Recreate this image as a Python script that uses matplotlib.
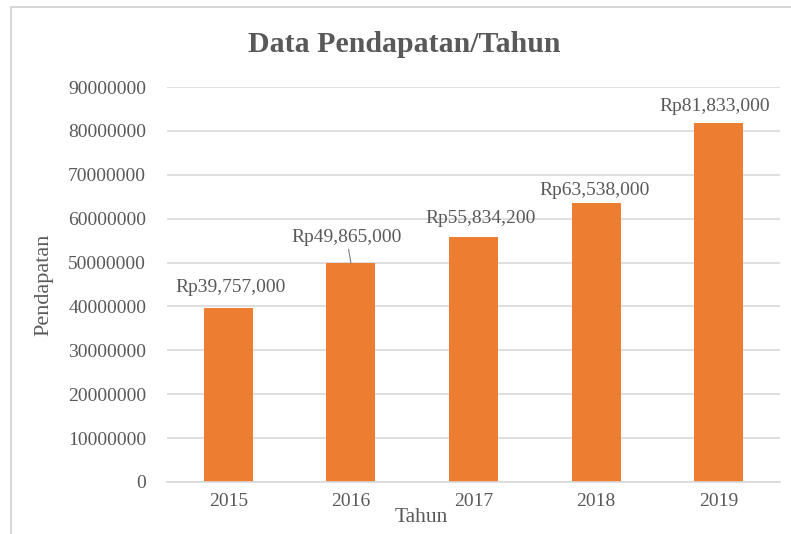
"""Bar chart of yearly revenue (Data Pendapatan/Tahun)."""

import matplotlib

matplotlib.use("Agg")
import matplotlib.pyplot as plt
from matplotlib.patches import Rectangle
from matplotlib.ticker import MultipleLocator

years = ["2015", "2016", "2017", "2018", "2019"]
pendapatan = [39757000, 49865000, 55834200, 63538000, 81833000]
value_labels = ["Rp39,757,000", "Rp49,865,000", "Rp55,834,200", "Rp63,538,000", "Rp81,833,000"]

BAR = "#ED7D31"
TEXT = "#595959"
GRID = "#D9D9D9"

W, H = 791, 534
plt.rcParams["font.family"] = ["Liberation Serif", "DejaVu Serif"]

fig = plt.figure(figsize=(W / 100, H / 100), dpi=100)
# chart frame: only its top and left edges fall inside the picture
fig.patches.append(Rectangle((11 / W, -0.05), 1.1, 1.05 - 7 / H, transform=fig.transFigure,
                             fill=False, edgecolor="#D0D0D0", linewidth=1.2))

left, right, top, bottom = 167, 780, 87, 482
ax = fig.add_axes([left / W, 1 - bottom / H, (right - left) / W, (bottom - top) / H])

x = list(range(len(years)))
ax.bar(x, pendapatan, width=0.4, color=BAR, zorder=2)
ax.set_xlim(-0.5, len(years) - 0.5)
ax.set_ylim(0, 90000000)
ax.yaxis.set_major_locator(MultipleLocator(10000000))
ax.yaxis.set_major_formatter(lambda v, _: f"{int(v)}")
ax.grid(axis="y", color=GRID, linewidth=1.2, zorder=0)
ax.set_axisbelow(True)
for side in ("top", "right", "left"):
    ax.spines[side].set_visible(False)
ax.spines["bottom"].set_color(GRID)
ax.spines["bottom"].set_linewidth(1.2)
ax.tick_params(length=0, colors=TEXT, labelsize=14)
ax.tick_params(axis="y", pad=15)
ax.tick_params(axis="x", pad=8)
ax.set_xticks(x, years)

# per-label offsets (points) above the bar tops; 2016 has a leader line
offsets = [(2, 8), (-3, 12), (5, 7), (-1, 3), (-3, 6)]
leader = [False, True, False, False, False]
for xi, v, lab, off, lead in zip(x, pendapatan, value_labels, offsets, leader):
    arrow = None
    if lead:
        arrow = dict(arrowstyle="-", color="#7F7F7F", linewidth=0.8, shrinkA=0, shrinkB=0)
    ax.annotate(lab, (xi, v), xytext=off, textcoords="offset points", ha="center", va="bottom",
                fontsize=14, color=TEXT, arrowprops=arrow)

ax.set_xlabel("Tahun", fontsize=15.5, color=TEXT, va="center")
ax.xaxis.set_label_coords((421 - left) / (right - left), (bottom - 518) / (bottom - top))
ax.set_ylabel("Pendapatan", fontsize=16, color=TEXT)
ax.yaxis.set_label_coords((53 - left) / (right - left), 0.5)

fig.text(0.5 * (248 + 560) / W, 1 - 45 / H, "Data Pendapatan/Tahun", ha="center", va="center",
         fontsize=21.5, fontweight="bold", color=TEXT)

fig.savefig("out.png", dpi=100)
